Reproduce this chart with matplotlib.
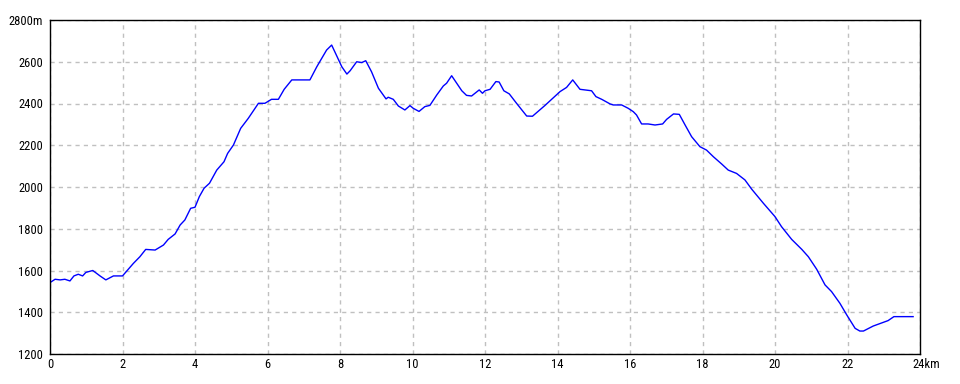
import matplotlib
matplotlib.use("Agg")
import matplotlib.pyplot as plt
from matplotlib.transforms import ScaledTranslation

dist_km = [0.0, 0.14, 0.28, 0.41, 0.55, 0.66, 0.78, 0.9, 0.99, 1.18, 1.38, 1.54, 1.75, 2.0,
           2.3, 2.48, 2.64, 2.9, 3.13, 3.26, 3.45, 3.59, 3.72, 3.88, 4.0, 4.12, 4.25, 4.4,
           4.6, 4.8, 4.9, 5.06, 5.26, 5.47, 5.75, 5.93, 6.11, 6.3, 6.46, 6.67, 6.99, 7.17,
           7.36, 7.63, 7.77, 8.05, 8.19, 8.28, 8.46, 8.6, 8.71, 8.87, 9.06, 9.27, 9.33,
           9.47, 9.61, 9.79, 9.93, 10.02, 10.18, 10.34, 10.48, 10.67, 10.85, 10.94, 11.08,
           11.22, 11.36, 11.49, 11.63, 11.84, 11.93, 12.0, 12.14, 12.3, 12.39, 12.52,
           12.67, 12.87, 13.15, 13.31, 13.65, 14.07, 14.25, 14.42, 14.62, 14.94, 15.06,
           15.22, 15.45, 15.54, 15.77, 15.95, 16.09, 16.18, 16.32, 16.5, 16.69, 16.9,
           17.01, 17.2, 17.36, 17.52, 17.7, 17.93, 18.11, 18.3, 18.53, 18.71, 18.94,
           19.17, 19.36, 19.68, 20.0, 20.18, 20.46, 20.74, 20.92, 21.15, 21.38, 21.56,
           21.79, 21.98, 22.21, 22.34, 22.44, 22.71, 22.99, 23.12, 23.28, 23.81]
elev_m = [1542, 1558, 1555, 1558, 1550, 1574, 1582, 1574, 1591, 1600, 1574, 1555, 1574, 1574,
          1634, 1666, 1701, 1698, 1722, 1749, 1775, 1818, 1842, 1898, 1903, 1954, 1994, 2018,
          2081, 2121, 2161, 2201, 2281, 2329, 2401, 2401, 2420, 2420, 2468, 2513, 2513, 2513,
          2576, 2656, 2680, 2576, 2541, 2557, 2600, 2596, 2605, 2552, 2473, 2422, 2430,
          2420, 2388, 2369, 2390, 2377, 2362, 2385, 2391, 2441, 2484, 2497, 2533,
          2497, 2461, 2439, 2436, 2465, 2449, 2461, 2468, 2505, 2503, 2461,
          2446, 2401, 2340, 2339, 2390, 2457, 2477, 2513, 2468, 2461, 2433,
          2420, 2398, 2393, 2393, 2377, 2361, 2345, 2302, 2302, 2297, 2302,
          2324, 2350, 2348, 2297, 2241, 2193, 2177, 2145, 2110, 2081, 2065,
          2034, 1989, 1922, 1858, 1810, 1749, 1701, 1666, 1606, 1531, 1499,
          1443, 1387, 1323, 1310, 1310, 1334, 1352, 1360, 1379, 1379]

x_ticks = [0, 2, 4, 6, 8, 10, 12, 14, 16, 18, 20, 22, 24]
x_labels = ["0", "2", "4", "6", "8", "10", "12", "14", "16", "18", "20", "22", "24km"]
y_ticks = [1200, 1400, 1600, 1800, 2000, 2200, 2400, 2600, 2800]
y_labels = ["1200", "1400", "1600", "1800", "2000", "2200", "2400", "2600", "2800m"]

plt.rcParams['font.family'] = ['Roboto Condensed', 'DejaVu Sans']

W, H = 960, 384
fig = plt.figure(figsize=(W / 100, H / 100), dpi=100)
ax = fig.add_axes([50 / W, (H - 354) / H, 870 / W, 334 / H])

ax.plot(dist_km, elev_m, color="#0000ff", linewidth=1.0)
ax.set_xlim(0, 24)
ax.set_ylim(1200, 2800)
ax.set_xticks(x_ticks)
ax.set_xticklabels(x_labels)
ax.set_yticks(y_ticks)
ax.set_yticklabels(y_labels)
ax.tick_params(length=0, labelsize=9, colors="black")
ax.tick_params(axis="y", pad=5)
ax.tick_params(axis="x", pad=3)
ax.grid(True, color="#c0c0c0", linestyle=(0, (3, 3)), linewidth=1.0)
ax.set_axisbelow(True)
for s in ax.spines.values():
    s.set_color("black")
    s.set_linewidth(1.0)

last = ax.get_xticklabels()[-1]
last.set_transform(last.get_transform() + ScaledTranslation(6 / 100, 0, fig.dpi_scale_trans))

fig.savefig("out.png", dpi=100, facecolor="white")
